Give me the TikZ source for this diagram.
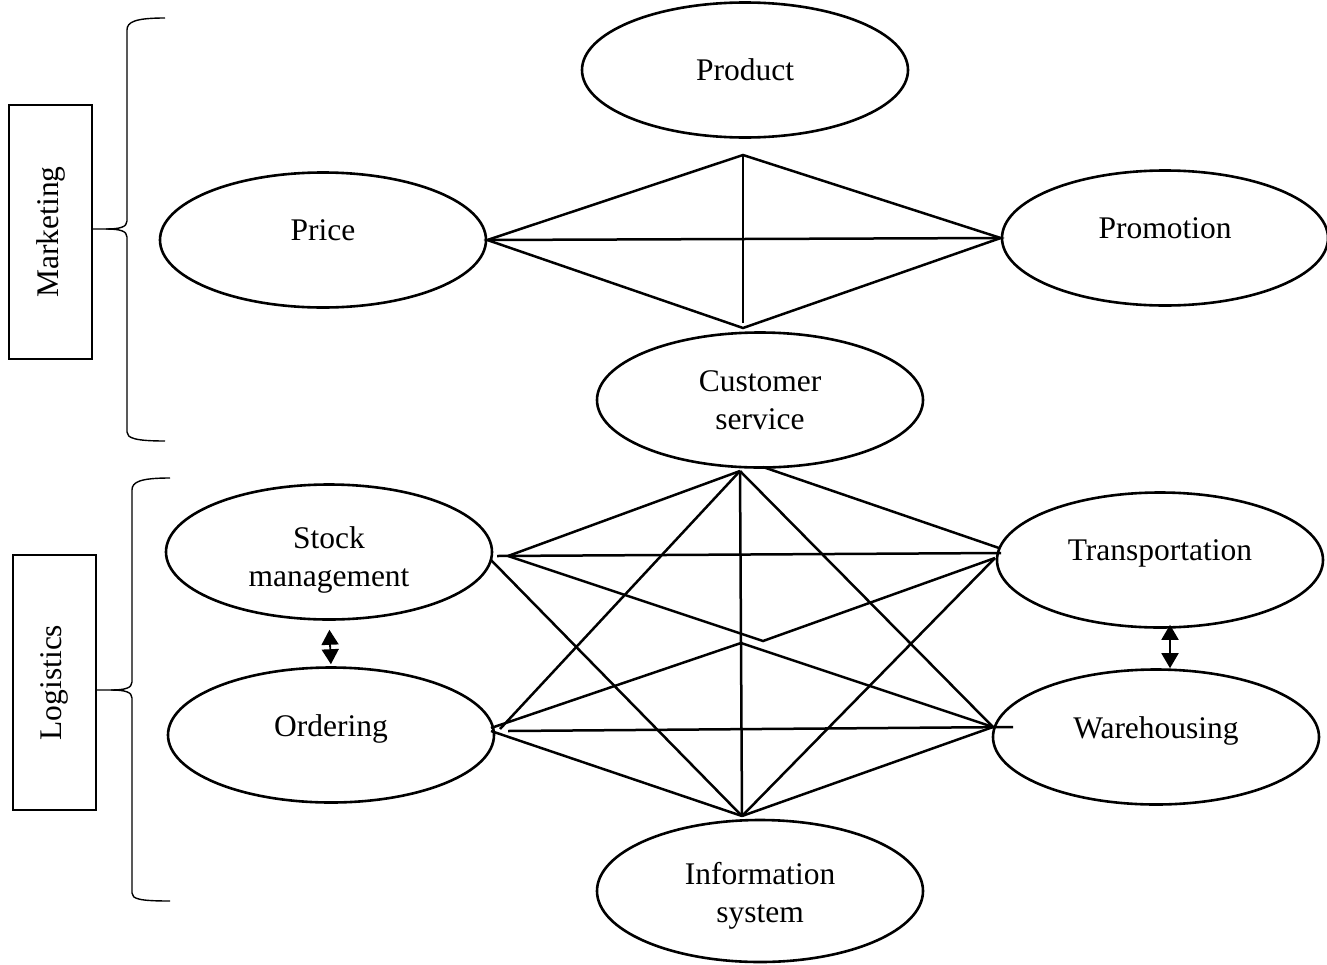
\documentclass[tikz,border=0pt]{standalone}
\usepackage{fontspec}
\setmainfont{Liberation Serif}
\usetikzlibrary{shapes.geometric,arrows.meta,calc}
\begin{document}
\begin{tikzpicture}[x=1pt,y=-1pt,
  every node/.style={font=\fontsize{31.5}{38}\selectfont},
  oval/.style={draw, ellipse, line width=2.6pt, minimum width=326pt,
               minimum height=135pt, inner sep=0pt},
  twoline/.style={align=center},
  raised/.style={text depth=19pt},
  link/.style={line width=2.5pt},
  groupbox/.style={draw, line width=2pt, rotate=90, minimum height=83pt, inner sep=0pt},
  brace/.style={line width=1.4pt},
  dbl/.style={line width=1.8pt,
              {Triangle[length=15pt,width=17pt]}-{Triangle[length=15pt,width=17pt]}}]

\useasboundingbox (0,0) rectangle (1327,964);

% marketing mix
\node[oval] (product) at (745,70) {Product};
\node[oval,raised] (price) at (323,240) {Price};
\node[oval,raised] (promotion) at (1165,238) {Promotion};
\node[oval,twoline] (customer) at (760,400) {Customer\\service};

% logistics mix
\node[oval] (stock) at (329,552) {};
\node[twoline] (stocktext) at (329,560) {Stock\\management};
\node[oval,raised] (ordering) at (331,735) {Ordering};
\node[oval,raised] (transport) at (1160,560) {Transportation};
\node[oval,raised] (warehouse) at (1156,737) {Warehousing};
\node[oval,minimum height=142pt] (info) at (760,891) {};
\node[twoline] (infotext) at (760,896) {Information\\system};

% group labels
\node[groupbox, minimum width=254pt] (mkt) at (50.5,232) {Marketing};
\node[groupbox, minimum width=255pt] (log) at (54,682.5) {Logistics};

% braces
\coordinate (mtip) at (106,229);
\draw[brace] (mkt.south |- mtip) -- (mtip)
  .. controls (120,229) and (127,227) .. (127,221) -- (127,30)
  .. controls (127,22) and (135,18) .. (165,18);
\draw[brace] (mtip)
  .. controls (120,229) and (127,231) .. (127,237) -- (127,432)
  .. controls (127,438) and (135,441) .. (165,441);

\coordinate (ltip) at (111,690);
\draw[brace] (log.south |- ltip) -- (ltip)
  .. controls (125,690) and (132,688) .. (132,682) -- (132,490)
  .. controls (132,482) and (140,478) .. (170,478);
\draw[brace] (ltip)
  .. controls (125,690) and (132,692) .. (132,698) -- (132,893)
  .. controls (132,899) and (140,901) .. (170,901);

% marketing diamond
\coordinate (dt) at (743,155);
\coordinate (db) at (743,328);
\coordinate (dv) at (743,323);
\draw[link] (price.east) -- (promotion.west);
\draw[link, line join=miter] (price.east) -- (dt) -- (promotion.west) -- (db) -- cycle;
\draw[link] (dt) -- (dv);

% logistics network
\coordinate (A) at (740,471);
\coordinate (C) at (763,467);
\coordinate (B) at (742,816);
\coordinate (s0) at (497,556);
\coordinate (s1) at (508,556);
\coordinate (s2) at (491,560);
\coordinate (t1) at (1001,553);
\coordinate (t2) at (999,548);
\coordinate (t3) at (995,558);
\coordinate (v1) at (763,641);
\coordinate (v2) at (741,643);
\coordinate (o1) at (500,729);
\coordinate (o2) at (491,728);
\coordinate (o3) at (508,731);
\coordinate (o4) at (491,731);
\coordinate (w1) at (993,727);
\coordinate (w2) at (1013,727);

\draw[link] (A) -- (B);
\draw[link] (s1) -- (A);
\draw[link] (C) -- (t2);
\draw[link] (o1) -- (A);
\draw[link] (A) -- (w1);
\draw[link] (s0) -- (t1);
\draw[link] (s1) -- (v1) -- (t3);
\draw[link] (s2) -- (B);
\draw[link] (o2) -- (v2) -- (w1);
\draw[link] (o3) -- (w2);
\draw[link] (o4) -- (B);
\draw[link] (w1) -- (B);
\draw[link] (t3) -- (B);

% two-way links
\draw[dbl, shorten <=9pt, shorten >=2pt] (stock.south) -- (ordering.north);
\draw[dbl] ([xshift=10pt,yshift=4pt]transport.south) -- ([xshift=14pt]warehouse.north);

\end{tikzpicture}
\end{document}
